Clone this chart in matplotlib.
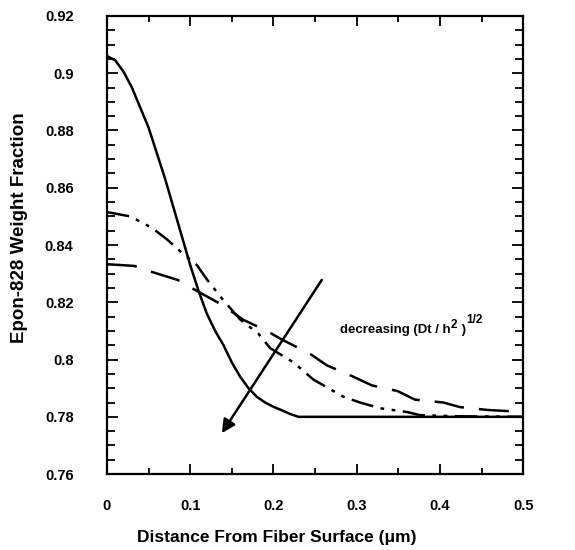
import matplotlib
matplotlib.use('Agg')
import matplotlib.pyplot as plt
from matplotlib.ticker import MultipleLocator, FuncFormatter
from matplotlib.transforms import offset_copy

# Данные
x_solid = [0, 0.010, 0.020, 0.030, 0.040, 0.050, 0.060, 0.070, 0.080, 0.090,
           0.100, 0.110, 0.120, 0.130, 0.140, 0.150, 0.160, 0.170, 0.180,
           0.190, 0.200, 0.210, 0.220, 0.230, 0.5]
y_solid = [0.906, 0.9045, 0.9005, 0.895, 0.888, 0.881, 0.872, 0.863, 0.853, 0.843,
           0.833, 0.824, 0.816, 0.810, 0.805, 0.799, 0.794, 0.790, 0.787,
           0.785, 0.7835, 0.7823, 0.781, 0.780, 0.780]

x_dashdot = [0, 0.028, 0.054, 0.072, 0.091, 0.108, 0.120, 0.139, 0.160, 0.182,
             0.196, 0.224, 0.248, 0.272, 0.284, 0.304, 0.328, 0.360, 0.376,
             0.420, 0.5]
y_dashdot = [0.8515, 0.850, 0.846, 0.842, 0.837, 0.833, 0.828, 0.821, 0.814, 0.809,
             0.804, 0.799, 0.793, 0.789, 0.787, 0.785, 0.783, 0.7817, 0.7806,
             0.7802, 0.780]

x_dashed = [0, 0.033, 0.054, 0.085, 0.106, 0.139, 0.163, 0.192, 0.210, 0.244,
            0.264, 0.296, 0.318, 0.349, 0.370, 0.404, 0.424, 0.457, 0.5]
y_dashed = [0.8333, 0.8327, 0.8306, 0.8278, 0.8243, 0.819, 0.814, 0.810, 0.807,
            0.802, 0.798, 0.794, 0.791, 0.789, 0.786, 0.785, 0.7834, 0.7824,
            0.7817]

arrow_start = (0.258, 0.8278)
arrow_end = (0.138, 0.7743)

# Подпись: (текст, подъём над базовой линией в pt)
label_parts = [('decreasing (Dt / h', 0), ('2', 3.6), (' )', 0), ('1/2', 7.0)]
label_pos = (0.280, 0.8093)

FONT = ['Liberation Sans', 'DejaVu Sans']


def draw_label(fig, ax):
    """Подпись со степенями из нескольких кусков"""
    renderer = fig.canvas.get_renderer()
    dx = 0.0
    for text, rise in label_parts:
        size = 9.5 if rise == 0 else 8.5
        tr = offset_copy(ax.transData, fig=fig, x=dx, y=rise, units='points')
        t = ax.text(label_pos[0], label_pos[1], text, transform=tr,
                    fontsize=size, fontweight='bold', va='baseline')
        bb = t.get_window_extent(renderer)
        dx += bb.width * 72.0 / fig.dpi + 0.3


def main():
    plt.rcParams['font.family'] = FONT
    plt.rcParams['font.weight'] = 'bold'

    fig = plt.figure(figsize=(5.75, 5.5), dpi=100)
    ax = fig.add_axes([0.186, 0.138, 0.724, 0.833])

    ax.plot(x_solid, y_solid, color='black', lw=1.8)
    ax.plot(x_dashdot, y_dashdot, color='black', lw=1.8,
            dashes=(9, 3, 1.5, 3, 1.5, 3))
    ax.plot(x_dashed, y_dashed, color='black', lw=1.8, dashes=(12, 6))

    # Стрелка
    ax.annotate('', xy=arrow_end, xytext=arrow_start,
                arrowprops=dict(arrowstyle='-|>', color='black', lw=1.8,
                                mutation_scale=20, shrinkA=0, shrinkB=0))

    ax.set_xlim(0, 0.5)
    ax.set_ylim(0.76, 0.92)
    ax.xaxis.set_major_locator(MultipleLocator(0.1))
    ax.xaxis.set_minor_locator(MultipleLocator(0.05))
    ax.yaxis.set_major_locator(MultipleLocator(0.02))
    ax.yaxis.set_minor_locator(MultipleLocator(0.005))
    ax.xaxis.set_major_formatter(FuncFormatter(lambda v, p: f'{v:g}'))
    ax.yaxis.set_major_formatter(FuncFormatter(lambda v, p: f'{round(v, 2):g}'))

    ax.tick_params(which='both', direction='in', top=True, right=True,
                   width=1.3, labelsize=10.5)
    ax.tick_params(axis='y', which='major', length=8, pad=24)
    ax.tick_params(axis='y', which='minor', length=6)
    ax.tick_params(axis='x', which='major', length=7, pad=18)
    ax.tick_params(axis='x', which='minor', length=4)
    for sp in ax.spines.values():
        sp.set_linewidth(1.6)

    ax.set_xlabel('Distance From Fiber Surface (\u03bcm)', fontsize=12.5,
                  fontweight='bold')
    ax.set_ylabel('Epon-828 Weight Fraction', fontsize=13.5,
                  fontweight='bold')
    ax.xaxis.set_label_coords(0.409, -0.122)
    ax.yaxis.set_label_coords(-0.19, 0.537)

    draw_label(fig, ax)

    fig.savefig('out.png', dpi=100)


if __name__ == '__main__':
    main()
